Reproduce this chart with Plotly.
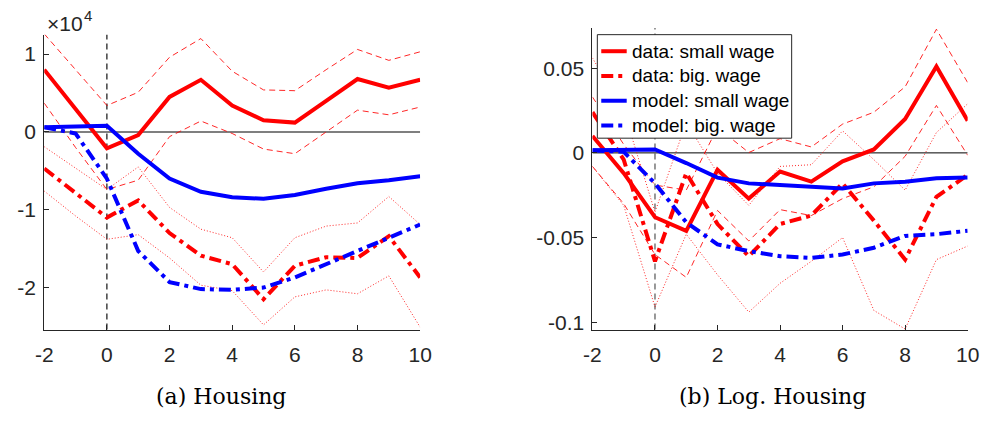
import plotly.graph_objects as go

# Horizon (years relative to event)
horizon = [-2, -1, 0, 1, 2, 3, 4, 5, 6, 7, 8, 9, 10]

# ---- Panel (a): Housing (levels) ----
a_data_small = [8000, 3000, -2100, -400, 4500, 6700, 3400, 1500, 1200, 4000, 6800, 5700, 6700]
a_data_small_hi = [12600, 8000, 3400, 5100, 9600, 12000, 7800, 5400, 5300, 8000, 10600, 9200, 10300]
a_data_small_lo = [3700, -2000, -7400, -6200, -600, 1400, -200, -2200, -2800, 0, 2800, 2200, 3200]
a_data_big = [-4700, -7800, -11000, -8800, -13000, -15900, -17000, -21500, -17200, -16100, -16200, -13400, -18700]
a_data_big_hi = [-1900, -4700, -7400, -4500, -9700, -12500, -13600, -18000, -13600, -12100, -11700, -8300, -11900]
a_data_big_lo = [-7600, -10800, -13800, -13200, -16200, -19700, -20400, -24800, -21200, -20300, -20800, -18500, -25100]
a_model_small = [600, 700, 800, -2800, -6000, -7700, -8400, -8600, -8100, -7300, -6600, -6200, -5700]
a_model_big = [600, -200, -6000, -15300, -19300, -20200, -20300, -20000, -18700, -17000, -15300, -13600, -11900]

# ---- Panel (b): Log. Housing ----
b_data_small = [0.010, -0.012, -0.038, -0.046, -0.010, -0.027, -0.011, -0.017, -0.005, 0.002, 0.020, 0.051, 0.019]
b_data_small_hi = [0.033, 0.005, -0.019, -0.022, 0.015, 0.0002, 0.0084, 0.0035, 0.017, 0.024, 0.039, 0.073, 0.0415]
b_data_small_lo = [-0.008, -0.030, -0.060, -0.0735, -0.034, -0.052, -0.0335, -0.037, -0.027, -0.020, -0.002, 0.028, -0.0014]
b_data_big = [0.024, -0.004, -0.064, -0.012, -0.042, -0.061, -0.042, -0.037, -0.018, -0.040, -0.063, -0.026, -0.013]
b_data_big_hi = [0.056, 0.025, -0.035, 0.018, -0.012, -0.031, -0.008, -0.007, 0.013, -0.004, -0.022, 0.012, 0.029]
b_data_big_lo = [-0.008, -0.031, -0.091, -0.048, -0.072, -0.094, -0.077, -0.064, -0.050, -0.093, -0.104, -0.063, -0.055]
b_model_small = [0.0015, 0.0015, 0.002, -0.006, -0.0146, -0.018, -0.019, -0.0205, -0.021, -0.018, -0.017, -0.015, -0.0145]
b_model_big = [0.0015, 0.0006, -0.018, -0.041, -0.054, -0.058, -0.061, -0.062, -0.060, -0.056, -0.049, -0.048, -0.046]

x_ticks = [-2, 0, 2, 4, 6, 8, 10]
x_ticktext = ["-2", "0", "2", "4", "6", "8", "10"]
a_yticks = [-20000, -10000, 0, 10000]
a_yticktext = ["-2", "-1", "0", "1"]
b_yticks = [-0.1, -0.05, 0, 0.05]
b_yticktext = ["-0.1", "-0.05", "0", "0.05"]

legend_names = ["data: small wage", "data: big. wage", "model: small wage", "model: big. wage"]
captions = ["(a) Housing", "(b) Log. Housing"]

RED = "#ff0000"
BLUE = "#0000ff"
THIN_RED = "rgba(255,0,0,0.85)"
AXIS = "#262626"
DASHDOT = "12px,5px,4px,5px"
THIN_DASH = "6px,4px"
THIN_DOT = "1px,2px"
FONT = "Liberation Sans"
TICK_SIZE = 21
W = 997
H = 424

series_styles = [(RED, "solid"), (RED, DASHDOT), (BLUE, "solid"), (BLUE, DASHDOT)]

fig = go.Figure()


def add_panel(xa, ya, d_s, d_s_hi, d_s_lo, d_b, d_b_hi, d_b_lo, m_s, m_b):
    for band in (d_s_hi, d_s_lo):
        fig.add_trace(go.Scatter(x=horizon, y=band, mode="lines", xaxis=xa, yaxis=ya,
                                 line=dict(color=THIN_RED, width=1, dash=THIN_DASH),
                                 showlegend=False, hoverinfo="skip"))
    for band in (d_b_hi, d_b_lo):
        fig.add_trace(go.Scatter(x=horizon, y=band, mode="lines", xaxis=xa, yaxis=ya,
                                 line=dict(color=THIN_RED, width=1, dash=THIN_DOT),
                                 showlegend=False, hoverinfo="skip"))
    for vals, (col, dash), name in zip([d_s, d_b, m_s, m_b], series_styles, legend_names):
        fig.add_trace(go.Scatter(x=horizon, y=vals, mode="lines", xaxis=xa, yaxis=ya, name=name,
                                 line=dict(color=col, width=4, dash=dash), showlegend=False))


add_panel("x", "y", a_data_small, a_data_small_hi, a_data_small_lo, a_data_big, a_data_big_hi,
          a_data_big_lo, a_model_small, a_model_big)
add_panel("x2", "y2", b_data_small, b_data_small_hi, b_data_small_lo, b_data_big, b_data_big_hi,
          b_data_big_lo, b_model_small, b_model_big)

y_dom = [1 - 332.7 / H, 1 - 35 / H]
y2_dom = [1 - 332.7 / H, 1 - 28.3 / H]

common_x = dict(range=[-2, 10], tickvals=x_ticks, ticktext=x_ticktext, ticks="inside", ticklen=5,
                tickcolor=AXIS, showline=True, linecolor=AXIS, linewidth=1, showgrid=False,
                zeroline=False, tickfont=dict(family=FONT, size=TICK_SIZE, color=AXIS),
                ticklabelstandoff=6)
common_y = dict(ticks="inside", ticklen=5, tickcolor=AXIS, showline=True, linecolor=AXIS,
                linewidth=1, showgrid=False, zeroline=False,
                tickfont=dict(family=FONT, size=TICK_SIZE, color=AXIS), ticklabelstandoff=3)

fig.update_layout(
    width=W, height=H, autosize=False,
    margin=dict(l=0, r=0, t=0, b=0),
    paper_bgcolor="white", plot_bgcolor="white",
    showlegend=False,
    xaxis=dict(domain=[36 / W, 420 / W], anchor="y", **common_x),
    yaxis=dict(domain=y_dom, anchor="x", range=[-25400, 12500], tickvals=a_yticks,
               ticktext=a_yticktext, **common_y),
    xaxis2=dict(domain=[596 / W, 979.3 / W], anchor="y2", **common_x),
    yaxis2=dict(domain=y2_dom, anchor="x2", range=[-0.1043, 0.0737], tickvals=b_yticks,
                ticktext=b_yticktext, **common_y),
)

# Reference lines: y = 0 and the event date x = 0
fig.add_shape(type="line", xref="x", yref="y", x0=-2, x1=10, y0=0, y1=0,
              line=dict(color="#555555", width=1.5), layer="below")
fig.add_shape(type="line", xref="x", yref="y domain", x0=0, x1=0, y0=0, y1=1,
              line=dict(color="#111111", width=1.2, dash="6px,4px"), layer="below")
fig.add_shape(type="line", xref="x2", yref="y2", x0=-2, x1=10, y0=0, y1=0,
              line=dict(color="black", width=1), layer="below")
fig.add_shape(type="line", xref="x2", yref="y2 domain", x0=0, x1=0, y0=0, y1=1,
              line=dict(color="#555555", width=1.2, dash="6px,4px"), layer="below")


# Legend box for panel (b), placed in page pixels
def px(x):
    return x / W


def py(y):
    return 1 - y / H


fig.add_shape(type="rect", xref="paper", yref="paper", x0=px(601), x1=px(799.5),
              y0=py(139.5), y1=py(35), line=dict(color=AXIS, width=1), fillcolor="white",
              layer="above")
for i, ((col, dash), name) in enumerate(zip(series_styles, legend_names)):
    yc = 51.7 + 25 * i
    fig.add_shape(type="line", xref="paper", yref="paper", x0=px(605), x1=px(631),
                  y0=py(yc), y1=py(yc), line=dict(color=col, width=4, dash=dash), layer="above")
    fig.add_annotation(text=name, xref="paper", yref="paper", x=px(634), y=py(yc),
                       xanchor="left", yanchor="middle", showarrow=False,
                       font=dict(family=FONT, size=19, color="black"))

# Axis multiplier for panel (a): "×10" with a raised exponent
fig.add_annotation(text="×10", xref="paper", yref="paper", x=px(37), y=py(24),
                   xanchor="left", yanchor="middle", showarrow=False,
                   font=dict(family=FONT, size=21, color=AXIS))
fig.add_annotation(text="4", xref="paper", yref="paper", x=px(75), y=py(16),
                   xanchor="left", yanchor="middle", showarrow=False,
                   font=dict(family=FONT, size=15, color=AXIS))

# Panel captions
for cx, txt in zip([217, 780], captions):
    fig.add_annotation(text=txt, xref="paper", yref="paper", x=px(cx), y=py(400),
                       xanchor="center", yanchor="middle", showarrow=False,
                       font=dict(family="DejaVu Serif", size=22, color="black"))

fig.write_html("out.html")
